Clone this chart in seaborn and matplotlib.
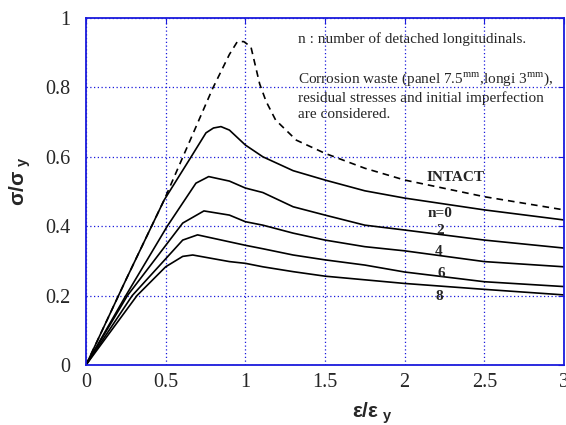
import numpy as np
import pandas as pd
import seaborn as sns
import matplotlib
matplotlib.use("Agg")
import matplotlib.pyplot as plt

# strain ratio / stress ratio
strain_intact = [0, 0.25, 0.49, 0.795, 0.9, 0.95, 0.99, 1.035, 1.09, 1.13, 1.19, 1.32, 1.5, 1.75, 2.0, 2.5, 3.0]
stress_intact = [0, 0.245, 0.475, 0.797, 0.895, 0.932, 0.932, 0.917, 0.81, 0.76, 0.706, 0.648, 0.61, 0.567, 0.533, 0.485, 0.447]

strain_n0 = [0, 0.25, 0.49, 0.66, 0.753, 0.8, 0.847, 0.9, 1.0, 1.11, 1.3, 1.5, 1.75, 2.0, 2.5, 3.0]
stress_n0 = [0, 0.245, 0.475, 0.6, 0.669, 0.683, 0.687, 0.677, 0.634, 0.6, 0.56, 0.533, 0.502, 0.481, 0.447, 0.418]

strain_n2 = [0, 0.25, 0.51, 0.69, 0.77, 0.9, 1.0, 1.11, 1.3, 1.5, 1.75, 2.0, 2.5, 3.0]
stress_n2 = [0, 0.2, 0.4, 0.524, 0.543, 0.53, 0.51, 0.497, 0.456, 0.432, 0.403, 0.389, 0.36, 0.337]

strain_n4 = [0, 0.26, 0.607, 0.74, 0.9, 1.0, 1.11, 1.3, 1.5, 1.75, 2.0, 2.5, 3.0]
stress_n4 = [0, 0.2, 0.409, 0.444, 0.432, 0.413, 0.403, 0.38, 0.36, 0.341, 0.329, 0.298, 0.283]

strain_n6 = [0, 0.29, 0.607, 0.7, 0.9, 1.0, 1.11, 1.3, 1.5, 1.75, 2.0, 2.5, 3.0]
stress_n6 = [0, 0.2, 0.36, 0.375, 0.355, 0.345, 0.335, 0.317, 0.303, 0.288, 0.268, 0.24, 0.226]

strain_n8 = [0, 0.32, 0.5, 0.607, 0.67, 0.9, 1.0, 1.11, 1.3, 1.5, 2.0, 2.5, 3.0]
stress_n8 = [0, 0.2, 0.283, 0.313, 0.317, 0.298, 0.293, 0.283, 0.269, 0.256, 0.235, 0.218, 0.202]

curve_labels = ["n=0", "2", "4", "6", "8"]
label_x = [2.145, 2.22, 2.215, 2.233, 2.22]
label_y = [0.438, 0.389, 0.326, 0.265, 0.196]

x_ticks = [0, 0.5, 1, 1.5, 2, 2.5, 3]
x_ticklabels = ["0", "0.5", "1", "1.5", "2", "2.5", "3"]
y_ticks = [0, 0.2, 0.4, 0.6, 0.8, 1]
y_ticklabels = ["0", "0.2", "0.4", "0.6", "0.8", "1"]

sns.set_style("white")
plt.rcParams['font.family'] = ['Liberation Serif', 'DejaVu Serif']
plt.rcParams['mathtext.fontset'] = 'custom'
plt.rcParams['mathtext.rm'] = 'Liberation Serif'
plt.rcParams['mathtext.bf'] = 'Liberation Sans:bold'

blue = "#1a1adc"
fig = plt.figure(figsize=(5.66, 4.25), dpi=100)
ax = fig.add_axes([86/566, 1 - 365/425, 478/566, 347/425])

sns.lineplot(x=strain_intact, y=stress_intact, ax=ax, color="black", lw=1.2, linestyle=(0, (4, 3)))
for sx, sy in [(strain_n0, stress_n0), (strain_n2, stress_n2), (strain_n4, stress_n4),
               (strain_n6, stress_n6), (strain_n8, stress_n8)]:
    sns.lineplot(x=sx, y=sy, ax=ax, color="black", lw=1.2)

ax.set_xlim(0, 3)
ax.set_ylim(0, 1)
ax.set_xticks(x_ticks)
ax.set_xticklabels(x_ticklabels)
ax.set_yticks(y_ticks)
ax.set_yticklabels(y_ticklabels)
ax.grid(True, color=blue, linestyle=(0, (1, 2)), lw=0.9)
for s in ax.spines.values():
    s.set_color(blue)
    s.set_linewidth(1.3)
ax.tick_params(direction="in", length=4, color=blue, labelsize=14.5, top=True, right=True,
               labeltop=False, labelright=False)
ax.tick_params(axis="x", pad=6)
ax.tick_params(axis="y", pad=11)

ax.set_xlabel(r"$\mathbf{\varepsilon/\varepsilon}_{\mathbf{\ y}}$", fontsize=15)
ax.xaxis.set_label_coords(0.598, -0.1)
ax.set_ylabel(r"$\mathbf{\sigma/\sigma}_{\mathbf{\ y}}$", fontsize=15)
ax.yaxis.set_label_coords(-0.11, 0.53)

ax.text(1.33, 0.939, "n : number of detached longitudinals.", fontsize=11, va="center")
ax.text(1.33, 0.85, "Corrosion waste (panel 7.5$^{\\rm mm}$,longi 3$^{\\rm mm}$),\n"
        "residual stresses and initial imperfection\nare considered.",
        fontsize=11, va="top", linespacing=1.3)
ax.text(2.14, 0.539, "INTACT", fontsize=11, fontweight="bold", va="center")
for i, lab in enumerate(curve_labels):
    ha = "left" if i == 0 else "center"
    ax.text(label_x[i], label_y[i], lab, fontsize=11, fontweight="bold", va="center", ha=ha)

fig.savefig("out.png", dpi=100)
